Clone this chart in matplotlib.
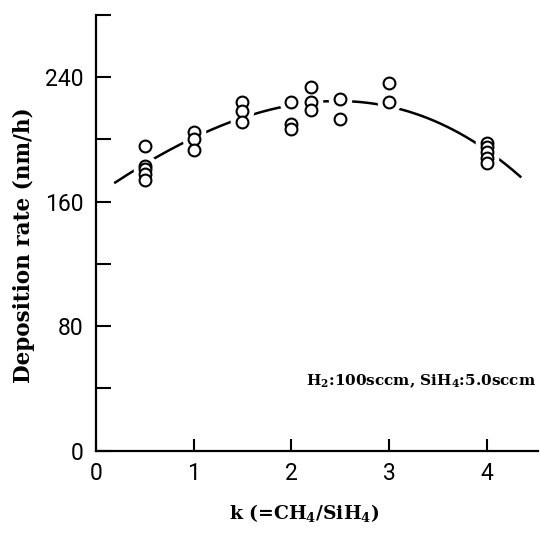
import numpy as np
import matplotlib
matplotlib.use("Agg")
import matplotlib.pyplot as plt

plt.rcParams["mathtext.default"] = "regular"

# Measured points (k = CH4/SiH4, deposition rate nm/h)
k_points = [0.5, 0.5, 0.5, 0.5, 0.5,
            1.0, 1.0, 1.0,
            1.5, 1.5, 1.5,
            2.0, 2.0, 2.0,
            2.2, 2.2, 2.2,
            2.5, 2.5,
            3.0, 3.0,
            4.0, 4.0, 4.0, 4.0, 4.0]
rate_points = [196, 183, 181, 178, 174,
               205, 200, 193,
               224, 218, 211,
               224, 210, 207,
               234, 224, 219,
               226, 213,
               236, 224,
               198, 195, 192, 188, 185]

# Points
curve_k = [0.2, 0.61, 0.86, 1.10, 1.36, 1.60, 1.85, 2.60, 2.84, 3.08, 3.56, 3.88, 4.34]
curve_rate = [172.5, 187.9, 196.9, 204.0, 210.9, 215.6, 219.9, 224.8, 223.8, 219.9, 208.7, 197.5, 176.5]

x_ticks = [0, 1, 2, 3, 4]
y_major = [0, 80, 160, 240]
y_minor = [40, 120, 200, 280]

fig = plt.figure(figsize=(5.4, 5.33), dpi=100)
ax = fig.add_axes([0.1772, 0.1544, 0.819, 0.8175])

coef = np.polyfit(curve_k, curve_rate, 3)
kk = np.linspace(min(curve_k), max(curve_k), 200)
ax.plot(kk, np.polyval(coef, kk), color="black", lw=1.8, zorder=1)

# white halo to break the line around markers
ax.plot(k_points, rate_points, linestyle="none", marker="o", ms=16,
        mfc="white", mec="white", zorder=2)
ax.plot(k_points, rate_points, linestyle="none", marker="o", ms=8.5,
        mfc="white", mec="black", mew=1.5, zorder=3)

ax.set_xlim(0, 4.52)
ax.set_ylim(0, 280)
ax.spines["top"].set_visible(False)
ax.spines["right"].set_visible(False)
for s in ("left", "bottom"):
    ax.spines[s].set_linewidth(1.6)

ax.set_xticks(x_ticks)
ax.set_yticks(y_major)
ax.set_yticks(y_minor, minor=True)
ax.tick_params(axis="both", which="both", direction="in", width=1.5)
ax.tick_params(axis="y", which="both", length=11, pad=9)
ax.tick_params(axis="x", which="major", length=9, pad=8)

tick_font = {"family": "Roboto", "size": 16.5}
ax.set_xticklabels([str(v) for v in x_ticks], fontdict=tick_font)
ax.set_yticklabels([str(v) for v in y_major], fontdict=tick_font)

ax.set_ylabel("Deposition rate (nm/h)", family="DejaVu Serif",
              fontweight="bold", fontsize=15.5)
ax.yaxis.set_label_coords(-0.138, 0.472)
fig.text(304 / 540, 1 - 513 / 533, "k (=CH$_4$/SiH$_4$)", family="DejaVu Serif",
         fontweight="bold", fontsize=13.5, ha="center", va="center")

ax.text(0.995, 0.16, "H$_2$:100sccm, SiH$_4$:5.0sccm", transform=ax.transAxes,
        family="DejaVu Serif", fontweight="bold", fontsize=11,
        ha="right", va="center")

fig.savefig("out.png", dpi=100, facecolor="white")
